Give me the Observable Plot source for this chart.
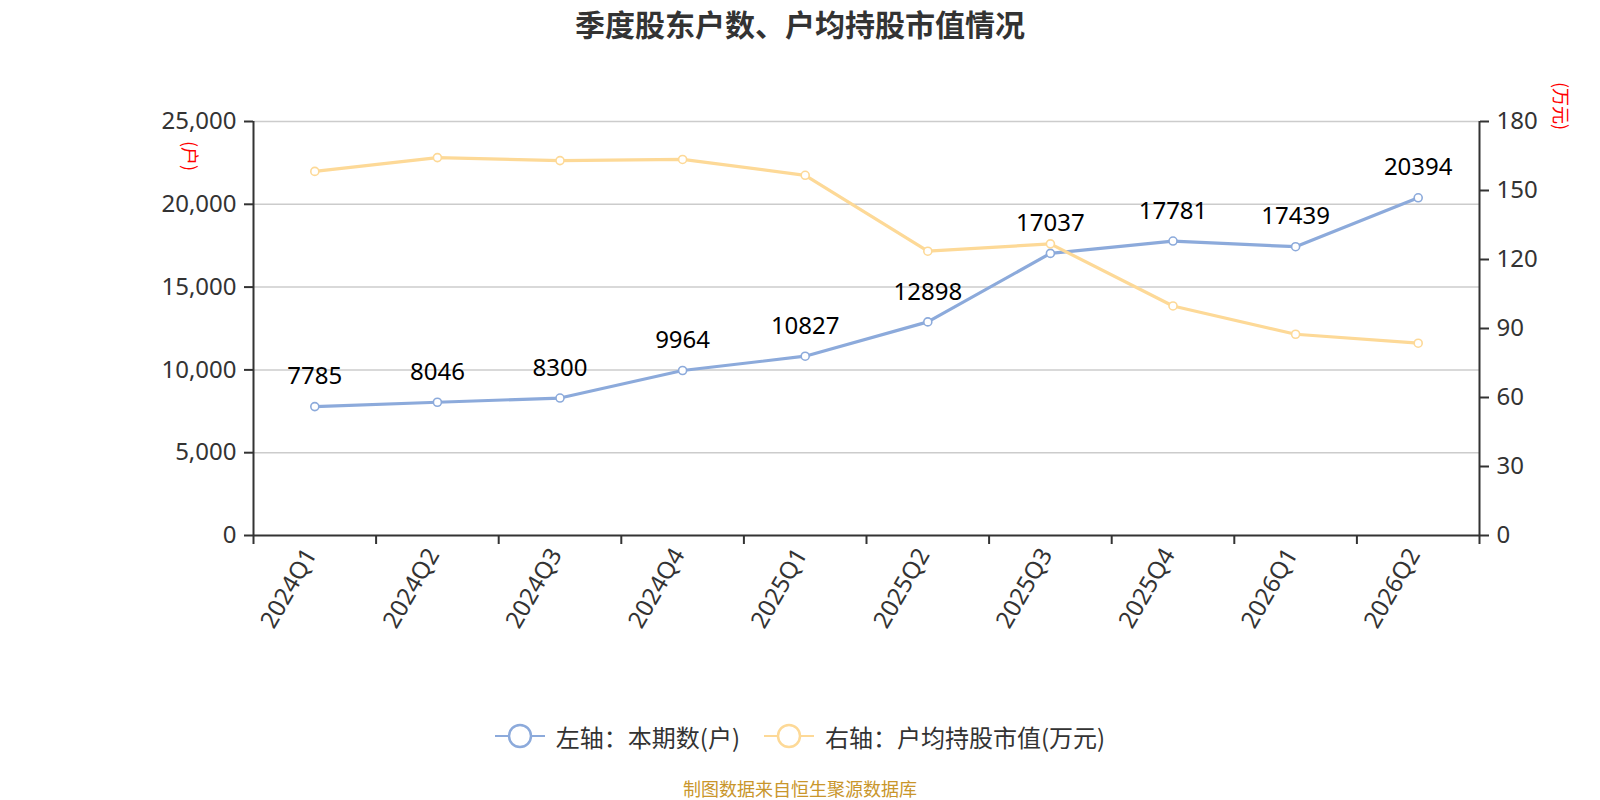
<!DOCTYPE html>
<html>
<head>
<meta charset="utf-8">
<script src="https://cdn.jsdelivr.net/npm/d3@7"></script>
<script src="https://cdn.jsdelivr.net/npm/@observablehq/plot@0.6"></script>
<style>
  html, body { margin: 0; padding: 0; background: #fff; }
  body { font-family: "Noto Sans", "Noto Sans CJK SC", sans-serif; }
  #wrap { position: relative; width: 1600px; height: 800px; overflow: hidden; }
  #title { position: absolute; left: 0; top: 0; width: 1600px; height: 46px; line-height: 46px;
    text-align: center; font-size: 30px; font-weight: bold; color: #333;
    font-family: "Noto Sans CJK SC", sans-serif; }
  .axname { position: absolute; color: #ff0000; font-size: 18px; font-family: "Noto Sans CJK SC", sans-serif;
    transform: translate(-50%, -50%) rotate(90deg); white-space: nowrap; line-height: 1; }
  #legend { position: absolute; left: 0; top: 716px; width: 1600px; height: 40px; display: flex;
    justify-content: center; align-items: center; font-size: 24px; color: #333;
    font-family: "Noto Sans CJK SC", sans-serif; }
  .item { display: flex; align-items: center; }
  .item svg { margin-right: 11px; }
  #source { position: absolute; left: 0; top: 777px; width: 1600px; text-align: center; font-size: 18px;
    color: #C9962B; line-height: 22px; font-family: "Noto Sans CJK SC", sans-serif; }
</style>
</head>
<body>
<div id="wrap">
  <div id="chart"></div>
  <div id="title"></div>
  <div class="axname" id="lname" style="left:191px; top:156px;"></div>
  <div class="axname" id="rname" style="left:1562px; top:106px;"></div>
  <div id="legend"></div>
  <div id="source"></div>
</div>
<script>
// ---- data ----
const quarters = ["2024Q1","2024Q2","2024Q3","2024Q4","2025Q1","2025Q2","2025Q3","2025Q4","2026Q1","2026Q2"];
const holders = [7785, 8046, 8300, 9964, 10827, 12898, 17037, 17781, 17439, 20394];
const avgValue = [158.3, 164.3, 163.0, 163.5, 156.6, 123.6, 126.8, 99.8, 87.5, 83.6];
const leftTicks = [0, 5000, 10000, 15000, 20000, 25000];
const rightTicks = [0, 30, 60, 90, 120, 150, 180];
const titleText = "季度股东户数、户均持股市值情况";
const leftName = "(户)";
const rightName = "(万元)";
const seriesNames = ["左轴：本期数(户)", "右轴：户均持股市值(万元)"];
const sourceText = "制图数据来自恒生聚源数据库";

const blue = "#8CAADB";
const yellow = "#FDD997";
const k = 25000 / 180; // right-axis value -> left-axis scale

const data = quarters.map((q, i) => ({i, q, holders: holders[i], avg: avgValue[i], avgScaled: avgValue[i] * k}));
const idx = d3.range(quarters.length);
const bounds = d3.range(quarters.length + 1).map(d => d - 0.5);

const chart = Plot.plot({
  width: 1600,
  height: 700,
  marginLeft: 253,
  marginRight: 121,
  marginTop: 121,
  marginBottom: 165,
  style: {fontFamily: '"Noto Sans", "Noto Sans CJK SC", sans-serif', fontSize: "24px", color: "#333", background: "transparent"},
  x: {type: "linear", domain: [-0.5, quarters.length - 0.5], axis: null},
  y: {domain: [0, 25000], axis: null},
  marks: [
    Plot.gridY(leftTicks.filter(d => d > 0), {stroke: "#cccccc", strokeOpacity: 1, strokeWidth: 1.5}),
    Plot.axisY(leftTicks, {anchor: "left", tickSize: 9, tickPadding: 8, strokeWidth: 2, fontSize: 24,
      tickFormat: d3.format(","), label: null, fill: "#333"}),
    Plot.axisY(rightTicks.map(d => d * k), {anchor: "right", tickSize: 9, tickPadding: 8, strokeWidth: 2, fontSize: 24,
      tickFormat: d => String(Math.round(d / k)), label: null, fill: "#333"}),
    Plot.axisX(bounds, {anchor: "bottom", tickSize: 9, strokeWidth: 2, tickFormat: () => "", label: null}),
    Plot.ruleX([-0.5, quarters.length - 0.5], {stroke: "#333", strokeWidth: 2}),
    Plot.ruleY([0], {stroke: "#333", strokeWidth: 2}),
    Plot.text(idx, {x: d => d, frameAnchor: "bottom", dy: 15, dx: -4, rotate: -60,
      textAnchor: "end", lineAnchor: "middle", text: i => quarters[i], fontSize: 24, fill: "#333"}),
    Plot.line(data, {x: "i", y: "holders", stroke: blue, strokeWidth: 3.2}),
    Plot.dot(data, {x: "i", y: "holders", r: 4, fill: "white", stroke: blue, strokeWidth: 1.6}),
    Plot.line(data, {x: "i", y: "avgScaled", stroke: yellow, strokeWidth: 3.2}),
    Plot.dot(data, {x: "i", y: "avgScaled", r: 4, fill: "white", stroke: yellow, strokeWidth: 1.6}),
    Plot.text(data, {x: "i", y: "holders", text: d => String(d.holders), dy: -30, fontSize: 24, fill: "#000"})
  ]
});
document.getElementById("chart").appendChild(chart);

document.getElementById("title").textContent = titleText;
document.getElementById("lname").textContent = leftName;
document.getElementById("rname").textContent = rightName;
document.getElementById("source").textContent = sourceText;

const legend = document.getElementById("legend");
[[seriesNames[0], blue], [seriesNames[1], yellow]].forEach(([name, color], j) => {
  const item = document.createElement("div");
  item.className = "item";
  if (j > 0) item.style.marginLeft = "24px";
  item.innerHTML = `<svg width="50" height="28" viewBox="0 0 50 28">
      <line x1="0" y1="14" x2="50" y2="14" stroke="${color}" stroke-width="2"/>
      <circle cx="25" cy="14" r="11" fill="white" stroke="${color}" stroke-width="2.5"/>
    </svg><span>${name}</span>`;
  legend.appendChild(item);
});
</script>
</body>
</html>
